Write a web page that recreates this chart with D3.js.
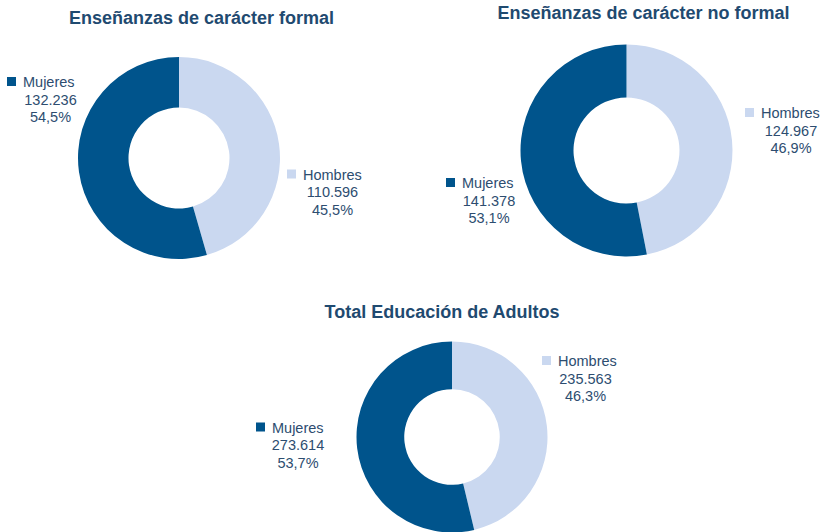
<!DOCTYPE html>
<html><head><meta charset="utf-8">
<script src="https://cdn.jsdelivr.net/npm/d3@7"></script>
<style>body{margin:0;background:#fff}svg{display:block}</style>
</head><body>
<svg id="c" width="825" height="532"></svg>
<script>
// ---- data ----
const chartTitles = ["Enseñanzas de carácter formal", "Enseñanzas de carácter no formal", "Total Educación de Adultos"];
const seriesNames = ["Hombres", "Mujeres"];
const hombres = [110596, 124967, 235563];
const mujeres = [132236, 141378, 273614];

// ---- layout ----
const layout = [
  {cx:179, cy:158, r:101, title:{x:201.5, y:24},
   labels:[{x:287, y:179.5, c:332.5}, {x:7, y:87, c:50.5}]},
  {cx:626.5, cy:150.5, r:106, title:{x:643.5, y:19},
   labels:[{x:745, y:118, c:791}, {x:446, y:188, c:489}]},
  {cx:452, cy:437, r:95.5, title:{x:442, y:318},
   labels:[{x:542, y:366, c:585.5}, {x:256, y:432.5, c:298}]}
];
const colors = d3.scaleOrdinal().domain(seriesNames).range(["#cad8f0", "#00548c"]);
const es = d3.formatLocale({decimal:",", thousands:".", grouping:[3], currency:["","€"]});
const fmtN = es.format(",d");
const fmtP = es.format(".1%");

const svg = d3.select("#c");
const pie = d3.pie().sort(null).value(d => d.v);

layout.forEach((L, i) => {
  const data = [{k:seriesNames[0], v:hombres[i]}, {k:seriesNames[1], v:mujeres[i]}];
  const total = d3.sum(data, d => d.v);
  const arc = d3.arc().innerRadius(L.r * 0.5).outerRadius(L.r);
  const g = svg.append("g").attr("transform", `translate(${L.cx},${L.cy})`);
  g.selectAll("path").data(pie(data)).join("path")
    .attr("d", arc).attr("fill", d => colors(d.data.k));

  svg.append("text").attr("x", L.title.x).attr("y", L.title.y)
    .attr("text-anchor", "middle")
    .attr("font-family", "Liberation Sans, Arial, sans-serif")
    .attr("font-weight", "bold").attr("font-size", 18).attr("fill", "#1f4a70")
    .text(chartTitles[i]);

  data.forEach((d, j) => {
    const lb = L.labels[j];
    const lg = svg.append("g").attr("font-family", "Liberation Sans, Arial, sans-serif")
      .attr("font-size", 14.5).attr("fill", "#2d4d70");
    lg.append("rect").attr("x", lb.x).attr("y", lb.y - 10).attr("width", 9).attr("height", 9)
      .attr("fill", colors(d.k));
    lg.append("text").attr("x", lb.x + 16).attr("y", lb.y).text(d.k);
    lg.append("text").attr("x", lb.c).attr("y", lb.y + 17.5).attr("text-anchor", "middle").text(fmtN(d.v));
    lg.append("text").attr("x", lb.c).attr("y", lb.y + 35).attr("text-anchor", "middle").text(fmtP(d.v / total));
  });
});
</script>
</body></html>
